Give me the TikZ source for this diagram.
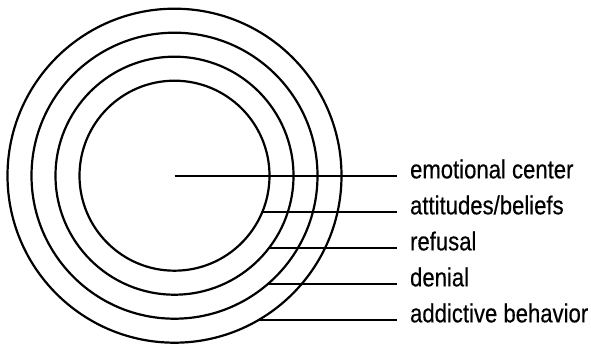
\documentclass[tikz,border=0pt]{standalone}
\usepackage{fontspec}
\setmainfont{Liberation Sans}[FakeStretch=0.85,FakeBold=0.4]
\usetikzlibrary{calc}

\begin{document}
\begin{tikzpicture}[x=1pt,y=-1pt,line width=2.2pt,
    ringlabel/.style={anchor=west,font=\fontsize{26}{26}\selectfont,inner xsep=12pt,inner ysep=0pt,text height=1ex,text depth=0pt}]
    % Marco
    \useasboundingbox (0,0) rectangle (591,344);

    % Centro
    \coordinate (c) at (174.5,175.7);

    % Anillos
    \foreach \r in {95,119,143,167}
    {
        \draw (c) circle[radius=\r pt];
    }

    % Etiquetas
    \node[ringlabel] (center) at (397,175.7) {emotional center};
    \node[ringlabel] (beliefs) at (397,211.7) {attitudes/beliefs};
    \node[ringlabel] (refusal) at (397,247.7) {refusal};
    \node[ringlabel] (denial) at (397,283.7) {denial};
    \node[ringlabel] (behavior) at (397,319.7) {addictive behavior};

    % Puntos sobre cada anillo
    \coordinate (p1) at ($(c)+({sqrt((95-36)*(95+36))},36)$);
    \coordinate (p2) at ($(c)+({sqrt((119-72)*(119+72))},72)$);
    \coordinate (p3) at ($(c)+({sqrt((143-108)*(143+108))},108)$);
    \coordinate (p4) at ($(c)+({sqrt((167-144)*(167+144))},144)$);

    % Lineas
    \draw (c) -- (center.west);
    \draw (p1) -- (beliefs.west);
    \draw (p2) -- (refusal.west);
    \draw (p3) -- (denial.west);
    \draw (p4) -- (behavior.west);

\end{tikzpicture}
\end{document}
